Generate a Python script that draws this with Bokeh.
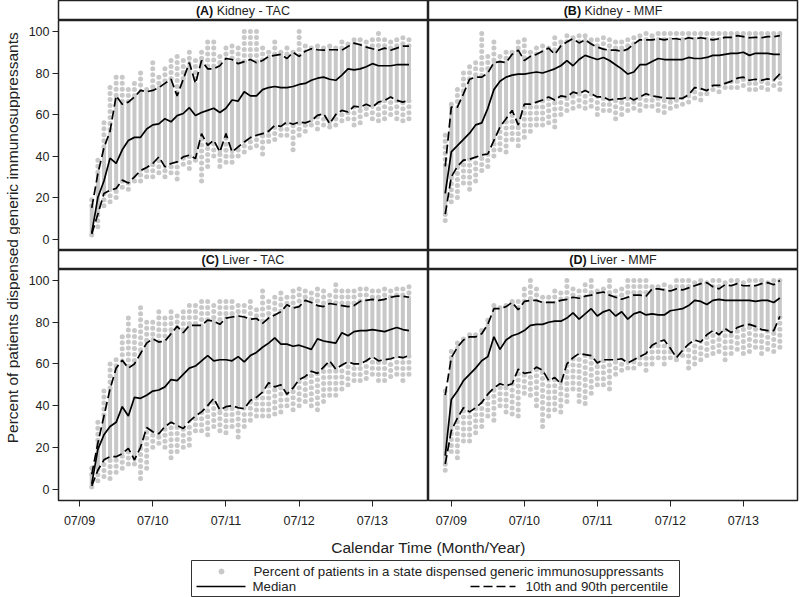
import math
from bokeh.plotting import figure
from bokeh.models import Range1d, FixedTicker, GridBox, ColumnDataSource
from bokeh.layouts import column
from bokeh.core.properties import value
from bokeh.embed import file_html
from bokeh.resources import INLINE

FONT = "Liberation Sans"
GREY = "#c8c8c8"
INK = "#222222"

# month index: 0 = Jan 2009
months_tac = list(range(8, 61))
months_mmf = list(range(5, 61))

x_ticks = [6, 18, 30, 42, 54]
x_tick_labels = ["07/09", "07/10", "07/11", "07/12", "07/13"]
y_ticks = [0, 20, 40, 60, 80, 100]

# (A) Kidney - TAC
A_med = [3, 20, 28, 39, 36.5, 43, 47.5, 49, 49, 53, 55, 55.5, 58, 56.5, 59.5, 60.5, 63.3, 59.5, 61, 62,
         63, 61, 63, 67, 66.5, 71, 69, 69, 72, 73, 73.5, 73, 73, 73.5, 74.5, 75, 76.5, 77.5, 78, 77,
         76.5, 79, 82, 81.5, 82, 83, 84.5, 83.5, 83.5, 83.5, 84, 84, 84]
A_p90 = [15, 31.5, 44, 52, 69, 65, 66, 68.5, 71.6, 71, 71.6, 73, 75, 77, 69, 77, 85, 75, 86, 82,
         82, 83.5, 87, 86.5, 84.5, 85.5, 86.5, 85, 86, 88, 88.5, 89, 87, 90, 88, 90.5, 91.7, 91.2, 91, 91.2,
         91.2, 91, 92.8, 94.4, 93.6, 92.5, 91.7, 91, 92, 91, 92, 93, 93]
A_p10 = [2.5, 12, 22, 23.5, 24.4, 28.4, 27, 30, 33, 34.5, 36.4, 39.6, 34.8, 36.4, 37.2, 39.6, 40.4, 38.8, 50.8, 45.2,
         47.6, 42, 50.8, 42, 44.4, 46.8, 48.9, 50, 50.8, 52, 54.8, 54.3, 56.4, 55.3, 56.4, 56, 57, 59.6, 60.4, 55.6,
         60, 62, 61.2, 64, 63.6, 65, 63.6, 66, 66.8, 68.4, 66.8, 66, 67]
A_lo = [2, 6, 16, 18, 20, 25, 24, 28, 28, 30, 30, 32, 30, 32, 29, 36, 34, 38, 28, 35,
        40, 35, 37, 37, 40, 42, 44, 45, 41, 47, 48, 50, 50, 43, 50, 52, 55, 53, 55, 54,
        55, 57, 58, 55, 56, 60, 58, 57, 58, 60, 58, 57, 58]
A_hi = [19, 38, 56, 73, 78, 78, 72, 75, 80, 72, 85, 78, 82, 86, 88, 86, 90, 86, 90, 95,
        95, 88, 92, 93, 92, 100, 100, 100, 92, 90, 95, 90, 92, 90, 100, 93, 92, 93, 92, 93,
        92, 95, 94, 96, 96, 95, 96, 99, 96, 95, 96, 97, 96]

# (B) Kidney - MMF
B_med = [22, 42, 45, 48, 51, 55, 56, 63, 72, 76, 78, 79, 79.5, 79.5, 80, 80.5, 80, 81, 82, 83.5,
         86, 83.5, 86.5, 88.5, 87.5, 86.5, 87.5, 86, 84, 82, 79.5, 80.5, 84, 84, 85.5, 87, 86.5, 86.5, 86.5, 86.5,
         87.5, 87, 87, 87.5, 88.5, 88.5, 89, 89.5, 89.5, 90, 88.5, 89.5, 89.5, 89.5, 89, 89]
B_p90 = [35, 63.6, 63.6, 70, 77, 78, 78, 80, 85, 85.5, 85, 89, 91, 86, 88, 89, 90.5, 92, 89, 93,
         95, 96.5, 94.5, 96, 94, 92.5, 91.5, 91, 91, 90.5, 91.5, 94, 96, 96, 96, 96.5, 96, 96.5, 96.5, 96,
         97, 96.5, 97, 96.5, 96, 96.5, 97.2, 97.2, 98, 97.5, 97, 97.2, 97, 97.5, 97.5, 98]
B_p10 = [12, 30, 35, 38, 38.5, 39.5, 40.5, 41, 47.5, 54, 58, 62, 55, 65, 65, 66, 67, 68.5, 67, 69,
         68.5, 70.8, 70, 71.6, 70, 68.5, 68.5, 67, 67.5, 67.5, 68.5, 67, 68.5, 70, 69, 68.5, 68, 67.8, 67.8, 67.8,
         69.5, 73, 72.5, 71.5, 74, 74, 75, 76, 77.5, 78, 76.5, 77, 76.5, 77.2, 76.5, 79.6]
B_lo = [9, 18, 20, 27, 24, 28, 33, 35, 40, 43, 42, 48, 45, 49, 52, 55, 55, 56, 54, 60,
        62, 63, 64, 63, 64, 60, 62, 62, 58, 60, 62, 63, 62, 64, 64, 62, 61, 63, 64, 65,
        66, 68, 67, 70, 72, 71, 73, 73, 73, 74, 72, 72, 73, 72, 74, 72]
B_hi = [50, 65, 72, 80, 83, 85, 99, 88, 95, 88, 90, 90, 95, 96, 90, 92, 93, 92, 97, 95,
        98, 97, 98, 98, 96, 96, 97, 96, 95, 95, 96, 97, 98, 99, 98, 99, 99, 99, 99, 99,
        99, 99, 99, 99, 99, 99, 99, 99, 99, 99, 99, 99, 99, 99, 99, 99]

# (C) Liver - TAC
C_med = [2.5, 19, 26, 30, 32, 39.5, 35, 44, 43.5, 45, 47, 47.5, 49, 52.5, 52, 55, 58, 59, 61.5, 64,
         61.5, 62, 62, 61.5, 63.5, 61, 64, 65.5, 68, 70, 72.5, 69.5, 69.5, 68.5, 69, 68, 67, 72, 71, 70.5,
         70, 75, 73.5, 75.5, 76, 76, 76.5, 76, 75.5, 76.5, 77.5, 76.5, 76]
C_p90 = [7, 22, 35, 48, 58, 61.8, 58, 60, 65, 70, 72, 70.5, 71, 74.5, 78, 75, 78.5, 78.5, 78.5, 81,
         80.5, 79, 82, 82.5, 83, 82.5, 81.5, 81.8, 79.5, 82, 83.5, 85, 88.4, 86.8, 87.5, 90.5, 89.5, 88, 87.5, 89,
         88.5, 88, 87.5, 88, 90, 90.5, 91, 90.5, 91, 92, 92.5, 92.5, 92]
C_p10 = [1.5, 9, 14, 15.5, 15.5, 17, 19.5, 14, 20, 29.5, 27.5, 26.5, 30, 32, 30.5, 29, 32.5, 35, 37, 40,
         43.5, 38, 39.5, 40, 39, 38.5, 42.5, 44, 46.5, 51, 49, 50, 45.5, 48.5, 52.5, 54, 56.5, 55.5, 58.5, 61.5,
         57.5, 59.5, 61, 60, 60, 61.5, 63.5, 61.5, 62, 62.5, 63.5, 63, 64]
C_lo = [1, 4, 6, 5, 8, 10, 12, 12, 5, 10, 20, 22, 20, 15, 18, 20, 21, 28, 28, 26,
        30, 28, 27, 30, 25, 30, 33, 35, 35, 35, 36, 37, 40, 38, 40, 42, 40, 38, 42, 45,
        45, 48, 50, 52, 52, 53, 55, 52, 52, 54, 55, 52, 55]
C_hi = [10, 32, 47, 60, 62, 73, 82, 76, 87, 80, 80, 85, 82, 85, 83, 85, 88, 88, 90, 90,
        88, 90, 90, 90, 88, 88, 90, 86, 95, 90, 92, 94, 92, 95, 96, 95, 94, 96, 95, 93,
        98, 95, 95, 95, 96, 96, 95, 95, 96, 95, 96, 96, 97]

# (D) Liver - MMF
D_med = [16, 43, 47, 52, 55, 58, 61.5, 63.5, 73, 67, 71.5, 73.5, 74.5, 76, 78.5, 79, 79, 80, 80.5, 80.5,
         82, 84.5, 81.5, 84, 86.5, 83, 85, 86, 83, 85, 81.5, 84, 85, 83.5, 84, 83.5, 83.5, 85.5, 86, 86.5,
         88, 90.5, 90, 88.5, 90.5, 91, 90.5, 90.5, 90.5, 90.5, 90.5, 90, 90.5, 90.5, 89.5, 91.6]
D_p90 = [45, 63, 68, 71.5, 73, 73, 74.5, 79, 86.5, 86.5, 87.5, 89.5, 86, 90, 90.5, 90.5, 89.5, 89.5, 89.5, 90.5,
         91, 92, 91.5, 92.5, 93, 94, 94.5, 93, 92, 91, 92, 93, 93, 92.5, 96, 96, 95.5, 95, 96, 95.5,
         96.5, 97.5, 98.5, 99, 97, 96, 98, 97.5, 98.5, 97.5, 97.5, 97.5, 98.5, 99, 98, 100]
D_p10 = [12, 28, 34, 39, 37, 39, 41.5, 45.5, 48.5, 50.5, 49.5, 50.5, 57.5, 55.5, 56, 58.5, 57, 52, 53.5, 50.5,
         60, 63, 65, 64.5, 64, 60.5, 62, 62, 62, 62.5, 60.5, 62, 63.5, 65, 69, 70.5, 71.5, 67.5, 63, 66.5,
         69.5, 71.5, 70.5, 74, 76, 74, 77, 75, 77.5, 78.5, 79, 78, 76.5, 76, 76, 82.8]
D_lo = [9, 18, 15, 23, 23, 27, 30, 35, 33, 40, 37, 36, 35, 46, 45, 40, 30, 35, 38, 37,
        42, 48, 42, 41, 46, 50, 50, 48, 55, 57, 58, 58, 60, 57, 60, 63, 60, 63, 62, 64,
        58, 60, 62, 64, 65, 66, 62, 65, 67, 65, 66, 68, 65, 67, 66, 68]
D_hi = [47, 66, 70, 72, 74, 74, 76, 81, 88, 87, 88, 90, 90, 96, 100, 96, 92, 92, 95, 94,
        100, 96, 95, 98, 100, 95, 96, 100, 95, 96, 100, 100, 100, 100, 97, 97, 98, 97, 100, 100,
        100, 99, 100, 99, 100, 100, 99, 100, 100, 99, 100, 100, 100, 99, 100, 100]

panel_titles = [("(A)", "Kidney - TAC"), ("(B)", "Kidney - MMF"),
                ("(C)", "Liver - TAC"), ("(D)", "Liver - MMF")]
y_title = "Percent of patients dispensed generic immunosuppressants"
x_title = "Calendar Time (Month/Year)"
legend_dots = "Percent of patients in a state dispensed generic immunosuppressants"
legend_median = "Median"
legend_pct = "10th and 90th percentile"

# ---------------- layout constants ----------------
FRAME_WL = 370
FRAME_WR = 369
HEAD_H = [20, 19]
PANEL_H = [230, 231]
LEFT_PAD = 38
RIGHT_PAD = 3
YT_W = 20
AX_H = 30
XR_L = (2.55, 63.2)
XR_R = (2.25, 62.9)
YR = (-5.5, 105.3)

REG = {" ": .278, "K": .667, "i": .222, "d": .556, "n": .556, "e": .556, "y": .5, "-": .333,
       "T": .611, "A": .667, "C": .722, "M": .833, "F": .611, "L": .556, "v": .5, "r": .333}
BOLD = {"(": .333, ")": .333, "A": .722, "B": .722, "C": .722, "D": .722}


def base_fig(w, h, xr, yr, xloc=None, yloc=None, ml=0, mr=0, mt=0, mb=0):
    p = figure(width=w, height=h, x_range=xr, y_range=yr, x_axis_location=xloc,
               y_axis_location=yloc, output_backend="svg", toolbar_location=None,
               min_border_left=ml, min_border_right=mr, min_border_top=mt,
               min_border_bottom=mb, background_fill_color="white",
               border_fill_color="white")
    p.grid.visible = False
    return p


def header(idx, left, hh):
    ml = LEFT_PAD if left else 0
    mr = 0 if left else RIGHT_PAD
    fw = FRAME_WL if left else FRAME_WR
    h = base_fig(fw + ml + mr, hh, Range1d(0, fw), Range1d(0, hh), ml=ml, mr=mr)
    h.outline_line_color = INK
    h.outline_line_width = 1.5
    b, r = panel_titles[idx]
    fs = 12.5
    bw = sum(BOLD[c] for c in b) * fs
    sw = REG[" "] * fs
    rw = sum(REG[c] for c in r) * fs
    split = fw / 2 - (bw + sw + rw) / 2 + bw
    h.text(x=[split], y=[hh / 2], text=[b], text_font=value(FONT), text_font_size=f"{fs}px",
           text_font_style="bold", text_align="right", text_baseline="middle", text_color="#111111")
    h.text(x=[split + sw], y=[hh / 2], text=[r], text_font=value(FONT), text_font_size=f"{fs}px",
           text_align="left", text_baseline="middle", text_color=INK)
    return h


def panel(months, lo, p10, med, p90, hi, left, bottom):
    ml = LEFT_PAD if left else 0
    mr = 0 if left else RIGHT_PAD
    mb = AX_H if bottom else 0
    fw = FRAME_WL if left else FRAME_WR
    ph = PANEL_H[1] if bottom else PANEL_H[0]
    xr = XR_L if left else XR_R
    p = base_fig(fw + ml + mr, ph + mb, Range1d(*xr), Range1d(*YR),
                 xloc="below" if bottom else None, yloc="left" if left else None,
                 ml=ml, mr=mr, mb=mb)
    p.outline_line_color = INK
    p.outline_line_width = 1.5
    for ax in p.axis:
        ax.axis_line_color = None
        ax.major_tick_in = 0
        ax.major_tick_out = 6
        ax.major_tick_line_color = INK
        ax.major_tick_line_width = 1
        ax.minor_tick_line_color = None
        ax.major_label_text_font = FONT
        ax.major_label_text_font_size = "12.5px"
        ax.major_label_text_color = INK
    if bottom:
        p.xaxis.ticker = FixedTicker(ticks=x_ticks)
        p.xaxis.major_label_overrides = {t: l for t, l in zip(x_ticks, x_tick_labels)}
        p.xaxis.major_label_standoff = 7
    if left:
        p.yaxis.ticker = FixedTicker(ticks=y_ticks)
        p.yaxis.major_label_standoff = 3
    src = ColumnDataSource(dict(m=months, lo=lo, p10=p10, med=med, p90=p90, hi=hi))
    p.segment(x0="m", y0="p10", x1="m", y1="p90", source=src, line_color=GREY,
              line_width=4, line_cap="round")
    p.segment(x0="m", y0="hi", x1="m", y1="p90", source=src, line_color=GREY,
              line_width=5, line_cap="round", line_dash="0 6")
    p.segment(x0="m", y0="lo", x1="m", y1="p10", source=src, line_color=GREY,
              line_width=5, line_cap="round", line_dash="0 6")
    p.line("m", "p90", source=src, line_color="black", line_width=1.7, line_dash="9 4")
    p.line("m", "p10", source=src, line_color="black", line_width=1.7, line_dash="9 4")
    p.line("m", "med", source=src, line_color="black", line_width=1.7)
    return p


pA = panel(months_tac, A_lo, A_p10, A_med, A_p90, A_hi, True, False)
pB = panel(months_mmf, B_lo, B_p10, B_med, B_p90, B_hi, False, False)
pC = panel(months_tac, C_lo, C_p10, C_med, C_p90, C_hi, True, True)
pD = panel(months_mmf, D_lo, D_p10, D_med, D_p90, D_hi, False, True)

hA, hB = header(0, True, HEAD_H[0]), header(1, False, HEAD_H[0])
hC, hD = header(2, True, HEAD_H[1]), header(3, False, HEAD_H[1])

YT_H = sum(HEAD_H) + sum(PANEL_H) + AX_H
yt = base_fig(YT_W, YT_H, Range1d(0, YT_W), Range1d(0, YT_H))
yt.outline_line_color = None
yt.text(x=[11.5], y=[YT_H - 251.5], text=[y_title], angle=math.pi / 2, text_font=value(FONT),
        text_font_size="15.5px", text_align="center", text_baseline="middle", text_color=INK)

grid = GridBox(children=[(yt, 0, 0, 4, 1),
                         (hA, 0, 1), (hB, 0, 2),
                         (pA, 1, 1), (pB, 1, 2),
                         (hC, 2, 1), (hD, 2, 2),
                         (pC, 3, 1), (pD, 3, 2)], spacing=0)

BW = YT_W + LEFT_PAD + FRAME_WL + FRAME_WR + RIGHT_PAD
BH = 597 - YT_H
bf = base_fig(BW, BH, Range1d(0, BW), Range1d(0, BH))
bf.outline_line_color = None
mid = YT_W + LEFT_PAD + FRAME_WL
bf.text(x=[mid], y=[BH - 17], text=[x_title], text_font=value(FONT), text_font_size="15.5px",
        text_align="center", text_baseline="middle", text_color=INK)
bf.quad(left=[mid - 237], right=[mid + 251], bottom=[1], top=[37], fill_color=None,
        line_color="#333333", line_width=1)
bf.scatter(x=[mid - 207], y=[26], size=5, marker="circle", fill_color=GREY, line_color=GREY)
bf.text(x=[mid - 175], y=[26], text=[legend_dots], text_font=value(FONT), text_font_size="13.3px",
        text_align="left", text_baseline="middle", text_color=INK)
bf.line(x=[mid - 232, mid - 183], y=[11, 11], line_color="black", line_width=1.7)
bf.text(x=[mid - 176], y=[11], text=[legend_median], text_font=value(FONT), text_font_size="13.3px",
        text_align="left", text_baseline="middle", text_color=INK)
bf.line(x=[mid + 42, mid + 87], y=[11, 11], line_color="black", line_width=1.7, line_dash="9 4")
bf.text(x=[mid + 97], y=[11], text=[legend_pct], text_font=value(FONT), text_font_size="13.3px",
        text_align="left", text_baseline="middle", text_color=INK)

layout = column(grid, bf, spacing=0)

with open("out.html", "w") as f:
    f.write(file_html(layout, INLINE))
